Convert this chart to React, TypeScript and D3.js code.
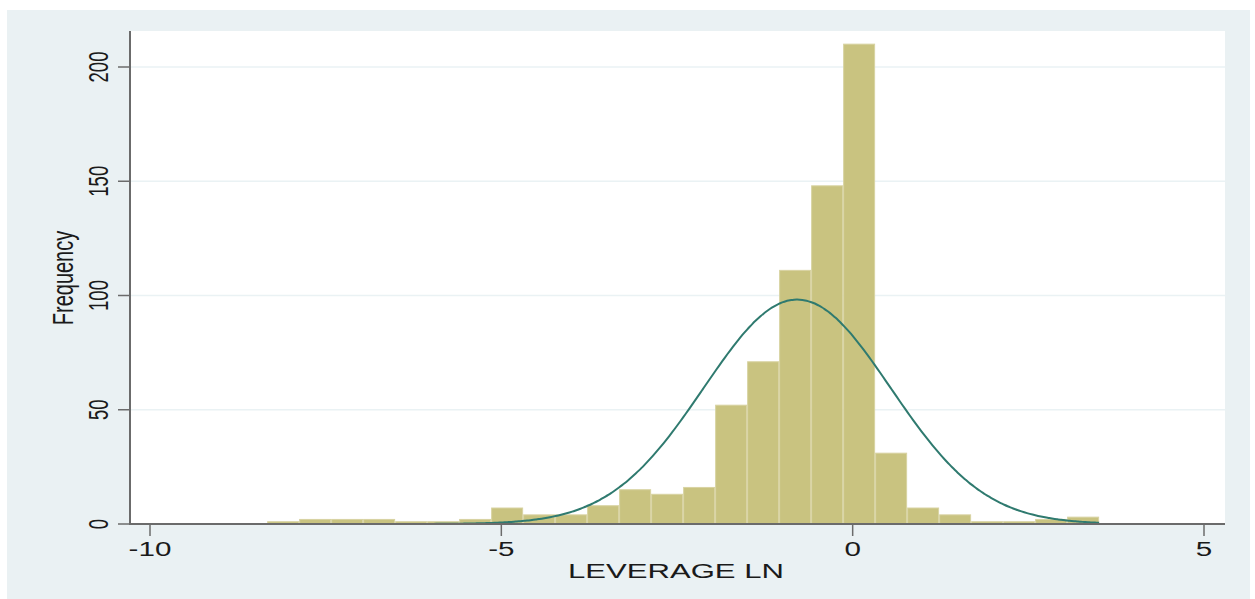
import React, { useEffect, useRef } from "react";
import * as d3 from "d3";

// Histogram of LEVERAGE LN (frequency), bins start at binStart, width binWidth
const binStart = -8.333;
const binWidth = 0.4554;
const binCounts = [1, 2, 2, 2, 1, 1, 2, 7, 4, 4, 8, 15, 13, 16, 52, 71, 111, 148, 210, 31, 7, 4, 1, 1, 2, 3];
const xTicks = [-10, -5, 0, 5];
const yTicks = [0, 50, 100, 150, 200];
const gridValues = [50, 100, 150, 200];
// Normal density overlay parameters
const normalMean = -0.79;
const normalSd = 1.33;

const W = 1255;
const H = 599;
const SX = 1.48; // horizontal stretch of text seen in the reference

export default function App() {
  const ref = useRef<SVGSVGElement>(null);
  useEffect(() => {
    const svg = d3.select(ref.current);
    svg.selectAll("*").remove();
    const font = "'Liberation Sans', Arial, sans-serif";

    const plotL = 130, plotR = 1225, plotT = 31, plotB = 524;
    const x = d3.scaleLinear().domain([-10, 5]).range([150, 1204]);
    const y = d3.scaleLinear().domain([0, 200]).range([plotB, 67]);

    // outer background
    svg.append("rect").attr("x", 7).attr("y", 10).attr("width", 1243).attr("height", 589).attr("fill", "#eaf1f3");
    svg.append("rect").attr("x", plotL).attr("y", plotT).attr("width", plotR - plotL).attr("height", plotB - plotT).attr("fill", "#ffffff");

    // gridlines
    svg.append("g").selectAll("line").data(gridValues).join("line")
      .attr("x1", plotL).attr("x2", plotR)
      .attr("y1", d => y(d)).attr("y2", d => y(d))
      .attr("stroke", "#eaf2f4").attr("stroke-width", 1.5);

    const bins = binCounts.map((c, i) => ({ x0: binStart + i * binWidth, x1: binStart + (i + 1) * binWidth, c }));
    svg.append("g").selectAll("rect").data(bins).join("rect")
      .attr("x", d => x(d.x0) + 0.5)
      .attr("width", d => x(d.x1) - x(d.x0) - 1)
      .attr("y", d => y(d.c))
      .attr("height", d => y(0) - y(d.c))
      .attr("fill", "#c9c380")
      .attr("stroke", "#d8d3a2")
      .attr("stroke-width", 1);

    // normal curve
    const n = d3.sum(binCounts);
    const xMin = binStart, xMax = binStart + binCounts.length * binWidth;
    const pts = d3.range(0, 301).map(i => {
      const v = xMin + (xMax - xMin) * i / 300;
      const z = (v - normalMean) / normalSd;
      const f = n * binWidth * Math.exp(-0.5 * z * z) / (normalSd * Math.sqrt(2 * Math.PI));
      return [v, f] as [number, number];
    });
    const line = d3.line<[number, number]>().x(d => x(d[0])).y(d => y(d[1])).curve(d3.curveBasis);
    svg.append("path").attr("d", line(pts)).attr("fill", "none").attr("stroke", "#2f7a6f").attr("stroke-width", 2);

    // axes
    const axisColor = "#6b6b6b";
    svg.append("line").attr("x1", plotL).attr("x2", plotL).attr("y1", plotT).attr("y2", plotB + 1).attr("stroke", axisColor).attr("stroke-width", 2);
    svg.append("line").attr("x1", plotL).attr("x2", plotR).attr("y1", plotB).attr("y2", plotB).attr("stroke", axisColor).attr("stroke-width", 2);

    // y ticks
    const yg = svg.append("g");
    yTicks.forEach(t => {
      yg.append("line").attr("x1", plotL - 12).attr("x2", plotL).attr("y1", y(t)).attr("y2", y(t)).attr("stroke", axisColor).attr("stroke-width", 1.5);
      yg.append("text").attr("transform", `translate(${plotL - 22},${y(t)}) scale(${SX},1) rotate(-90)`)
        .attr("text-anchor", "middle").attr("font-family", font).attr("font-size", 18.5).attr("fill", "#1a1a1a")
        .text(String(t));
    });
    svg.append("text").attr("transform", `translate(73,278) scale(${SX},1) rotate(-90)`)
      .attr("text-anchor", "middle").attr("font-family", font).attr("font-size", 20).attr("fill", "#1a1a1a")
      .text("Frequency");

    // x ticks
    const xg = svg.append("g");
    xTicks.forEach(t => {
      xg.append("line").attr("x1", x(t)).attr("x2", x(t)).attr("y1", plotB).attr("y2", plotB + 12).attr("stroke", axisColor).attr("stroke-width", 1.5);
      xg.append("text").attr("transform", `translate(${x(t)},${plotB + 32}) scale(${SX},1)`)
        .attr("text-anchor", "middle").attr("font-family", font).attr("font-size", 20).attr("fill", "#1a1a1a")
        .text(String(t));
    });
    svg.append("text").attr("transform", `translate(676,578) scale(${SX},1)`)
      .attr("text-anchor", "middle").attr("font-family", font).attr("font-size", 21).attr("fill", "#1a1a1a")
      .text("LEVERAGE LN");
  }, []);
  return (
    <svg ref={ref} width={W} height={H} style={{ position: "absolute", left: 0, top: 0, background: "#ffffff" }} />
  );
}
